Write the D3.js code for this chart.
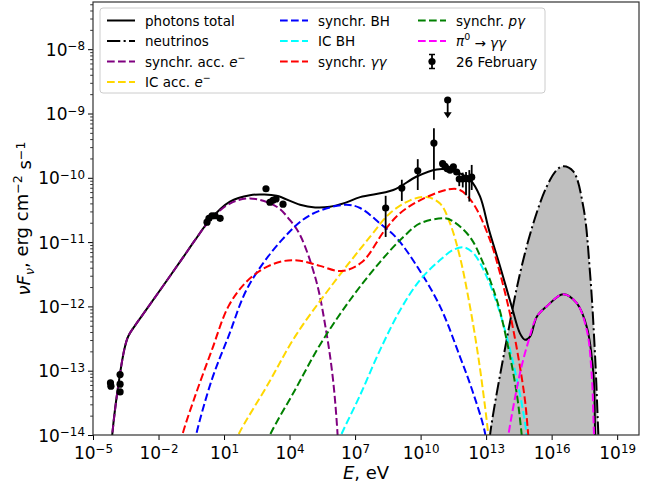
<!DOCTYPE html>
<html><head><meta charset="utf-8">
<script src="https://cdn.jsdelivr.net/npm/d3@7"></script>
<style>
body{margin:0;background:#fff}
svg{display:block}
text{font-family:"DejaVu Sans",sans-serif;fill:#000}
</style>
</head><body>
<svg id="c" width="660" height="486"></svg>
<script>
// ---- data: pairs of [log10 E (eV), log10 nuF_nu (erg cm^-2 s^-1)] ----
const photonsTotal = [[-4.17,-14.3],[-4.12,-14.0],[-3.76,-13.04],[-3.54,-12.63],[-3.38,-12.46],[-3.1,-12.31],[-2.6,-12.07],[-1.85,-11.71],[-0.9,-11.25],[-0.33,-10.97],[0.36,-10.65],[1.27,-10.37],[2.19,-10.27],[2.8,-10.26],[3.41,-10.28],[4.48,-10.42],[5.17,-10.46],[5.85,-10.45],[6.54,-10.39],[7.23,-10.30],[8.75,-10.19],[9.82,-9.98],[10.74,-9.87],[11.35,-9.88],[12.26,-10.03],[12.72,-10.29],[13.13,-10.81],[13.64,-11.38],[14.17,-12.00],[14.55,-12.42],[14.78,-12.52],[15.01,-12.47],[15.32,-12.16],[15.77,-12.00],[16.53,-11.81],[17.15,-11.95],[17.61,-12.32],[17.91,-13.04],[17.99,-13.97],[18.02,-14.3]];
const neutrinos = [[13.1,-14.4],[13.18,-14.0],[13.94,-12.52],[14.55,-11.49],[15.16,-10.71],[15.77,-10.14],[16.23,-9.88],[16.53,-9.82],[16.99,-9.90],[17.45,-10.45],[17.76,-11.49],[17.99,-12.78],[18.14,-14.0],[18.2,-14.4]];
const synchrAccE = [[-4.17,-14.3],[-4.12,-14.0],[-3.76,-13.04],[-3.54,-12.63],[-3.38,-12.46],[-3.1,-12.31],[-2.6,-12.07],[-1.85,-11.71],[-0.9,-11.25],[-0.33,-10.97],[0.36,-10.66],[1.27,-10.40],[2.19,-10.32],[3.41,-10.45],[4.02,-10.66],[4.48,-10.89],[5.21,-11.59],[5.67,-12.37],[5.99,-13.14],[6.20,-14.0],[6.25,-14.4]];
const icAccE = [[1.3,-14.3],[1.65,-14.0],[3.03,-13.20],[4.25,-12.47],[5.85,-11.71],[7.68,-10.92],[8.60,-10.55],[9.52,-10.35],[10.28,-10.30],[10.89,-10.40],[11.35,-10.71],[11.80,-11.23],[12.26,-12.00],[12.64,-12.78],[12.95,-13.56],[13.10,-14.0],[13.18,-14.3]];
const synchrBH = [[-0.45,-14.3],[-0.28,-14.0],[0.44,-13.14],[1.20,-12.47],[2.11,-11.69],[3.64,-10.97],[4.94,-10.58],[6.54,-10.42],[7.23,-10.47],[8.14,-10.71],[8.91,-10.94],[9.88,-11.40],[10.89,-12.00],[11.80,-12.78],[12.41,-13.35],[12.95,-13.97],[13.05,-14.3]];
const icBH = [[6.0,-14.3],[6.36,-14.0],[7.23,-13.38],[8.14,-12.68],[9.06,-12.06],[9.97,-11.59],[10.89,-11.28],[11.50,-11.12],[11.96,-11.08],[12.41,-11.17],[13.03,-11.54],[13.64,-12.11],[14.17,-12.78],[14.63,-13.51],[14.86,-14.0],[14.95,-14.3]];
const synchrGG = [[-1.1,-14.3],[-0.91,-14.0],[-0.33,-13.40],[0.44,-12.68],[1.20,-12.00],[1.96,-11.64],[2.72,-11.43],[3.64,-11.30],[4.48,-11.29],[5.39,-11.37],[6.40,-11.45],[7.32,-11.31],[8.37,-10.81],[9.06,-10.55],[9.97,-10.35],[11.27,-10.18],[11.80,-10.19],[12.41,-10.40],[13.18,-10.97],[13.64,-11.49],[14.09,-12.11],[14.47,-12.78],[14.78,-13.46],[14.93,-14.0],[15.02,-14.3]];
const synchrPG = [[2.75,-14.3],[3.10,-14.0],[4.25,-13.30],[5.39,-12.60],[6.77,-11.90],[8.14,-11.31],[9.21,-10.92],[9.97,-10.71],[11.12,-10.63],[11.50,-10.68],[12.26,-10.92],[12.87,-11.33],[13.49,-11.90],[13.94,-12.52],[14.40,-13.35],[14.63,-14.0],[14.72,-14.3]];
const pi0GG = [[13.9,-14.3],[14.02,-14.0],[14.55,-13.04],[14.93,-12.55],[15.32,-12.16],[15.77,-12.00],[16.53,-11.81],[17.15,-11.95],[17.61,-12.37],[17.83,-13.04],[17.94,-14.0],[17.98,-14.3]];

// observations, 26 February (log10 values)
const obsLogE  = [-4.20,-4.18,-3.76,-3.76,-3.76, 0.22,0.31,0.45,0.59,0.82, 2.92,3.10,3.24,3.38,3.70, 8.40,9.14,9.87,10.61, 11.01,11.12,11.22,11.35,11.50,11.65,11.77,11.93,12.08,12.23,12.34];
const obsLogF  = [-13.19,-13.24,-13.06,-13.21,-13.33, -10.69,-10.63,-10.59,-10.59,-10.63, -10.17,-10.38,-10.35,-10.33,-10.41, -10.47,-10.16,-9.89,-9.46, -9.78,-9.82,-9.86,-9.88,-9.83,-9.91,-10.02,-10.02,-10.01,-10.02,-9.99];
const obsLogLo = [null,null,null,null,null, null,null,null,null,null, null,null,null,null,null, -10.92,-10.36,-10.19,-10.03, null,null,null,null,null,null,-10.13,-10.15,-10.27,-10.37,-10.19];
const obsLogHi = [null,null,null,null,null, null,null,null,null,null, null,null,null,null,null, -10.28,-10.03,-9.71,-9.23, null,null,null,null,null,null,-9.93,-9.92,-9.91,-9.88,-9.80];
const ulLogE = [11.24];
const ulLogF = [-8.79];
const ulLogArrowEnd = [-9.06];

const xTickExp = [-5,-2,1,4,7,10,13,16,19];
const yTickExp = [-14,-13,-12,-11,-10,-9,-8];

// ---- layout ----
const L = 93, R = 639, T = 2, B = 435;
const pxPerDecY = 64.3;
const svg = d3.select("#c");
const x = d3.scaleLog().domain([1e-5, 1e20]).range([L, R]);
const y = d3.scaleLog().domain([1e-14, Math.pow(10, -14 + (B - T) / pxPerDecY)]).range([B, T]);
const P = v => Math.pow(10, v);

svg.append("defs").append("clipPath").attr("id","clip")
  .append("rect").attr("x",L).attr("y",T).attr("width",R-L).attr("height",B-T);

const plot = svg.append("g").attr("clip-path","url(#clip)");
const crv = d3.curveCatmullRom.alpha(0.5);
const line = d3.line().x(d => x(P(d[0]))).y(d => y(P(d[1]))).curve(crv);
const area = d3.area().x(d => x(P(d[0]))).y0(B + 5).y1(d => y(P(d[1]))).curve(crv);

const LW = 2;
const DASH = "7.7,3.3";
const DASHDOT = "13.3,3.3,2.1,3.3";

plot.append("path").datum(neutrinos).attr("d", area).attr("fill","#bfbfbf");

const series = [
  {d: photonsTotal, c: "#000", dash: null},
  {d: neutrinos, c: "#000", dash: DASHDOT},
  {d: synchrAccE, c: "purple", dash: DASH},
  {d: icAccE, c: "gold", dash: DASH},
  {d: synchrBH, c: "blue", dash: DASH},
  {d: icBH, c: "cyan", dash: DASH},
  {d: synchrGG, c: "red", dash: DASH},
  {d: synchrPG, c: "green", dash: DASH},
  {d: pi0GG, c: "magenta", dash: DASH}
];
series.forEach(s => {
  plot.append("path").datum(s.d).attr("d", line)
    .attr("fill","none").attr("stroke", s.c).attr("stroke-width", LW)
    .attr("stroke-dasharray", s.dash);
});

// data points
const pts = plot.append("g");
obsLogE.forEach((e, i) => {
  if (obsLogLo[i] !== null) {
    pts.append("line").attr("x1", x(P(e))).attr("x2", x(P(e)))
      .attr("y1", y(P(obsLogLo[i]))).attr("y2", y(P(obsLogHi[i])))
      .attr("stroke","#000").attr("stroke-width",1.8);
  }
});
obsLogE.forEach((e, i) => {
  pts.append("circle").attr("cx", x(P(e))).attr("cy", y(P(obsLogF[i]))).attr("r", 3.6).attr("fill","#000");
});
ulLogE.forEach((e, i) => {
  const cx = x(P(e)), cy = y(P(ulLogF[i])), ey = y(P(ulLogArrowEnd[i]));
  pts.append("line").attr("x1",cx).attr("x2",cx).attr("y1",cy).attr("y2",ey-3)
    .attr("stroke","#000").attr("stroke-width",1.8);
  pts.append("path").attr("d",`M${cx-4},${ey-5}L${cx+4},${ey-5}L${cx},${ey+1}Z`).attr("fill","#000");
  pts.append("circle").attr("cx",cx).attr("cy",cy).attr("r",3.6).attr("fill","#000");
});

// axes
const supText = e => (e < 0 ? "\u2212" + Math.abs(e) : String(e));
const FS = 17;
const xAxis = svg.append("g").attr("transform",`translate(0,${B})`)
  .call(d3.axisBottom(x).tickValues(xTickExp.map(P)).tickSize(5).tickPadding(5).tickFormat(""));
xAxis.select(".domain").remove();
xAxis.selectAll(".tick line").attr("stroke","#000").attr("stroke-width",1);
xAxis.selectAll(".tick").each(function(d){
  const t = d3.select(this).append("text").attr("y", 23.5).attr("text-anchor","middle")
    .attr("font-size", FS);
  t.append("tspan").text("10");
  t.append("tspan").attr("dy","-0.45em").attr("font-size", FS*0.7).text(supText(Math.round(Math.log10(d))));
});

const yMinor = [];
for (let k = -14; k <= -8; k++) for (let m = 2; m <= 9; m++) {
  const v = m * Math.pow(10, k);
  if (v <= y.domain()[1]) yMinor.push(v);
}
const yAxisMinor = svg.append("g").attr("transform",`translate(${L},0)`)
  .call(d3.axisLeft(y).tickValues(yMinor).tickSize(2.8).tickFormat(""));
yAxisMinor.select(".domain").remove();
yAxisMinor.selectAll(".tick line").attr("stroke","#000").attr("stroke-width",0.8);
const yAxis = svg.append("g").attr("transform",`translate(${L},0)`)
  .call(d3.axisLeft(y).tickValues(yTickExp.map(P)).tickSize(5).tickFormat(""));
yAxis.select(".domain").remove();
yAxis.selectAll(".tick line").attr("stroke","#000").attr("stroke-width",1);
yAxis.selectAll(".tick").each(function(d){
  const t = d3.select(this).append("text").attr("x", -8).attr("y", 6).attr("text-anchor","end")
    .attr("font-size", FS);
  t.append("tspan").text("10");
  t.append("tspan").attr("dy","-0.45em").attr("font-size", FS*0.7).text(supText(Math.round(Math.log10(d))));
});

// frame
svg.append("rect").attr("x",L).attr("y",T).attr("width",R-L).attr("height",B-T)
  .attr("fill","none").attr("stroke","#333").attr("stroke-width",1.2);

// axis labels
const xl = svg.append("text").attr("x",(L+R)/2).attr("y",479).attr("text-anchor","middle").attr("font-size",18);
xl.append("tspan").attr("font-style","italic").text("E");
xl.append("tspan").text(", eV");

const yl = svg.append("text").attr("transform",`translate(30,${(T+B)/2}) rotate(-90)`)
  .attr("text-anchor","middle").attr("font-size",18);
yl.append("tspan").attr("font-style","italic").text("\u03BDF");
yl.append("tspan").attr("font-style","italic").attr("font-size",12.6).attr("dy","0.3em").text("\u03BD");
yl.append("tspan").attr("dy","-0.3em").text(", erg cm");
yl.append("tspan").attr("font-size",12.6).attr("dy","-0.5em").text("\u22122");
yl.append("tspan").attr("dy","0.5em").text(" s");
yl.append("tspan").attr("font-size",12.6).attr("dy","-0.5em").text("\u22121");

// legend
const lg = svg.append("g");
lg.append("rect").attr("x",100).attr("y",8).attr("width",445).attr("height",85).attr("rx",3)
  .attr("fill","#fff").attr("fill-opacity",0.8).attr("stroke","#ccc").attr("stroke-width",1);
const legendItems = [
  {col:0,row:0,c:"#000",dash:null,label:[["photons total"]]},
  {col:0,row:1,c:"#000",dash:DASHDOT,label:[["neutrinos"]]},
  {col:0,row:2,c:"purple",dash:DASH,label:[["synchr. acc. "],["e","i"],["\u2212","sup"]]},
  {col:0,row:3,c:"gold",dash:DASH,label:[["IC acc. "],["e","i"],["\u2212","sup"]]},
  {col:1,row:0,c:"blue",dash:DASH,label:[["synchr. BH"]]},
  {col:1,row:1,c:"cyan",dash:DASH,label:[["IC BH"]]},
  {col:1,row:2,c:"red",dash:DASH,label:[["synchr. "],["\u03B3\u03B3","i"]]},
  {col:2,row:0,c:"green",dash:DASH,label:[["synchr. "],["p\u03B3","i"]]},
  {col:2,row:1,c:"magenta",dash:DASH,label:[["\u03C0","i"],["0","sup"],[" \u2192 ","down"],["\u03B3\u03B3","i"]]},
  {col:2,row:2,c:null,label:[["26 February"]]}
];
const colX = [107, 280, 418];
const rowY = [20.5, 41, 61.5, 82];
legendItems.forEach(it => {
  const hx = colX[it.col], hy = rowY[it.row];
  if (it.c) {
    lg.append("line").attr("x1",hx).attr("x2",hx+28).attr("y1",hy).attr("y2",hy)
      .attr("stroke",it.c).attr("stroke-width",LW).attr("stroke-dasharray",it.dash);
  } else {
    const cx = hx + 14;
    lg.append("line").attr("x1",cx).attr("x2",cx).attr("y1",hy-7).attr("y2",hy+7).attr("stroke","#000").attr("stroke-width",1.8);
    lg.append("line").attr("x1",cx-3).attr("x2",cx+3).attr("y1",hy-7).attr("y2",hy-7).attr("stroke","#000").attr("stroke-width",1.5);
    lg.append("line").attr("x1",cx-3).attr("x2",cx+3).attr("y1",hy+7).attr("y2",hy+7).attr("stroke","#000").attr("stroke-width",1.5);
    lg.append("circle").attr("cx",cx).attr("cy",hy).attr("r",3.6).attr("fill","#000");
  }
  const t = lg.append("text").attr("x",hx+38).attr("y",hy+5).attr("font-size",13.5);
  let shifted = false;
  it.label.forEach(([s, k]) => {
    const sp = t.append("tspan").text(s);
    if (k === "i") sp.attr("font-style","italic");
    if (k === "sup") { sp.attr("font-size",9.5).attr("dy","-0.6em"); shifted = true; }
    else if (shifted) { sp.attr("dy","0.6em"); shifted = false; }
  });
});
</script>
</body></html>
